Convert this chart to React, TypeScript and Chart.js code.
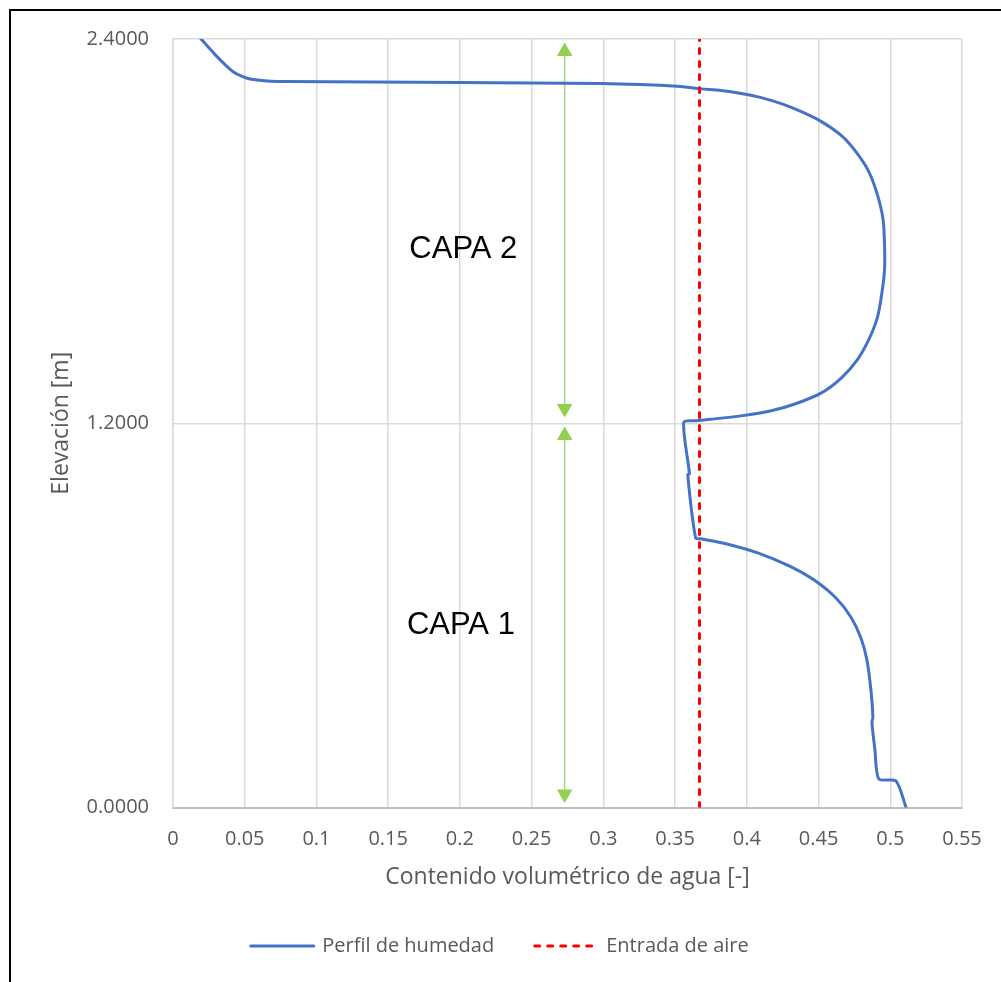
import React, { useEffect, useRef } from 'react';
import { Chart, registerables } from 'chart.js';

Chart.register(...registerables);

// ---- Data ----
const moistureX = [
  0.0195, 0.0244, 0.0307, 0.0363, 0.0419, 0.0482, 0.0537, 0.0656, 0.0782, 0.2, 0.298, 0.354, 0.366, 0.382,
  0.396, 0.41, 0.424, 0.438, 0.452, 0.466, 0.476, 0.485, 0.491, 0.495, 0.496, 0.496, 0.494, 0.491, 0.485,
  0.477, 0.466, 0.452, 0.434, 0.417, 0.396, 0.375, 0.364, 0.356, 0.36, 0.3588, 0.3643, 0.3678, 0.384,
  0.4076, 0.4306, 0.4467, 0.462, 0.4725, 0.4795, 0.4837, 0.4865, 0.4879, 0.4872, 0.4893, 0.492, 0.504, 0.511,
];
const moistureY = [
  2.4, 2.376, 2.345, 2.32, 2.298, 2.283, 2.275, 2.269, 2.267, 2.264, 2.261, 2.252, 2.245, 2.239, 2.23, 2.217,
  2.198, 2.173, 2.142, 2.098, 2.048, 1.986, 1.914, 1.836, 1.758, 1.68, 1.602, 1.53, 1.461, 1.398, 1.342,
  1.295, 1.261, 1.239, 1.223, 1.2125, 1.208, 1.203, 1.042, 1.039, 0.842, 0.839, 0.825, 0.795, 0.752, 0.711,
  0.655, 0.595, 0.53, 0.461, 0.367, 0.28, 0.267, 0.18, 0.089, 0.083, 0.0,
];
const airEntryX = 0.367;
const airEntryY = [0, 2.4];
const xTicks = [0, 0.05, 0.1, 0.15, 0.2, 0.25, 0.3, 0.35, 0.4, 0.45, 0.5, 0.55];
const yTicks = [0, 1.2, 2.4];
const arrowX = 0.273;
const arrowUpperY = [1.246, 2.361];
const arrowLowerY = [0.042, 1.162];
const layerLabels = ['CAPA 2', 'CAPA 1'];
const layerLabelX = [0.2024, 0.2007];
const layerLabelY = [1.742, 0.567];
const legendOrder = [1, 0];

const TICK_FONT = { family: "'Open Sans', sans-serif", size: 20 };
const TITLE_FONT = { family: "'Open Sans', sans-serif", size: 23 };
const TEXT_COLOR = '#595959';

const layerLabelPlugin = {
  id: 'layerLabels',
  afterDatasetsDraw(chart: any) {
    const { ctx, scales } = chart;
    ctx.save();
    ctx.font = "31px 'Liberation Sans', Arial, sans-serif";
    ctx.fillStyle = '#000000';
    ctx.textAlign = 'center';
    ctx.textBaseline = 'middle';
    layerLabels.forEach((t, i) => {
      ctx.fillText(t, scales.x.getPixelForValue(layerLabelX[i]), scales.y.getPixelForValue(layerLabelY[i]));
    });
    ctx.restore();
  },
};

const legendPlugin = {
  id: 'bottomLegend',
  afterDraw(chart: any) {
    const ctx = chart.ctx;
    const items = legendOrder.map((i) => chart.data.datasets[i]);
    ctx.save();
    ctx.font = "20px 'Open Sans', sans-serif";
    const sample = 66;
    const gapText = 7;
    const gapItem = 39;
    const widths = items.map((d: any) => sample + gapText + ctx.measureText(d.label).width);
    const total = widths.reduce((a: number, b: number) => a + b, 0) + gapItem * (items.length - 1);
    let x = 488 - total / 2;
    const y = chart.height - 36;
    items.forEach((d: any, i: number) => {
      ctx.beginPath();
      ctx.strokeStyle = d.borderColor;
      ctx.lineWidth = d.borderWidth;
      ctx.setLineDash(d.borderDash || []);
      ctx.lineCap = 'round';
      ctx.moveTo(x + 1.5, y);
      ctx.lineTo(x + sample - 1.5, y);
      ctx.stroke();
      ctx.setLineDash([]);
      ctx.fillStyle = TEXT_COLOR;
      ctx.textAlign = 'left';
      ctx.textBaseline = 'middle';
      ctx.fillText(d.label, x + sample + gapText, y);
      x += widths[i] + gapItem;
    });
    ctx.restore();
  },
};

export default function App() {
  const canvasRef = useRef<HTMLCanvasElement | null>(null);

  useEffect(() => {
    if (!canvasRef.current) return;
    const arrowStyle = {
      borderColor: '#a9d18e',
      borderWidth: 1.5,
      showLine: true,
      pointStyle: 'triangle',
      pointRadius: 9,
      pointRotation: [180, 0],
      pointBackgroundColor: '#92d050',
      pointBorderColor: '#92d050',
      pointBorderWidth: 0,
      tension: 0,
    };
    const chart = new Chart(canvasRef.current, {
      type: 'scatter',
      data: {
        datasets: [
          {
            label: 'Entrada de aire',
            data: airEntryY.map((y) => ({ x: airEntryX, y })),
            borderColor: '#ff0000',
            backgroundColor: '#ff0000',
            borderWidth: 3,
            borderDash: [5, 8],
            borderCapStyle: 'round',
            showLine: true,
            pointRadius: 0,
          },
          {
            label: 'Perfil de humedad',
            data: moistureX.map((x, i) => ({ x, y: moistureY[i] })),
            borderColor: '#4472c4',
            backgroundColor: '#4472c4',
            borderWidth: 3,
            borderCapStyle: 'round',
            borderJoinStyle: 'round',
            showLine: true,
            pointRadius: 0,
            tension: 0.25,
          },
          {
            label: 'arrow-upper',
            data: arrowUpperY.map((y) => ({ x: arrowX, y })),
            ...arrowStyle,
          } as any,
          {
            label: 'arrow-lower',
            data: arrowLowerY.map((y) => ({ x: arrowX, y })),
            ...arrowStyle,
          } as any,
        ],
      },
      options: {
        responsive: false,
        animation: false,
        devicePixelRatio: 1,
        layout: { padding: { left: 0, top: 28, right: 39, bottom: 0 } },
        plugins: {
          legend: { display: false },
          tooltip: { enabled: false },
        },
        scales: {
          x: {
            type: 'linear',
            min: 0,
            max: 0.55,
            afterBuildTicks: (s: any) => {
              s.ticks = xTicks.map((v) => ({ value: v }));
            },
            afterFit: (s: any) => {
              s.height = 174.5;
              s.paddingLeft = 0;
              s.paddingRight = 0;
            },
            ticks: {
              callback: (v: any) => String(Number(Number(v).toFixed(2))),
              color: TEXT_COLOR,
              font: TICK_FONT,
              padding: 20,
              maxRotation: 0,
              autoSkip: false,
            },
            grid: { color: '#d9d9d9', lineWidth: 1.5, drawTicks: false },
            border: { color: '#bfbfbf', width: 2 },
            title: {
              display: true,
              text: 'Contenido volumétrico de agua [-]',
              color: TEXT_COLOR,
              font: TITLE_FONT,
              padding: { top: 0, bottom: 91 },
            },
          },
          y: {
            type: 'linear',
            min: 0,
            max: 2.4,
            afterBuildTicks: (s: any) => {
              s.ticks = yTicks.map((v) => ({ value: v }));
            },
            afterFit: (s: any) => {
              s.width = 162;
              s.paddingTop = 0;
              s.paddingBottom = 0;
            },
            ticks: {
              callback: (v: any) => Number(v).toFixed(4),
              color: TEXT_COLOR,
              font: TICK_FONT,
              padding: 24,
            },
            grid: { color: '#d9d9d9', lineWidth: 1.5, drawTicks: false },
            border: { color: '#d9d9d9', width: 1.5 },
            title: {
              display: true,
              text: 'Elevación [m]',
              color: TEXT_COLOR,
              font: TITLE_FONT,
              padding: { top: 37, bottom: 0 },
            },
          },
        },
      } as any,
      plugins: [layerLabelPlugin, legendPlugin],
    });
    return () => chart.destroy();
  }, []);

  return (
    <div
      style={{
        position: 'absolute',
        left: 9,
        top: 9,
        width: 992,
        height: 973,
        boxSizing: 'border-box',
        borderLeft: '2px solid #000',
        borderTop: '2px solid #000',
        background: '#fff',
      }}
    >
      <canvas ref={canvasRef} width={990} height={971} style={{ display: 'block' }} />
    </div>
  );
}
